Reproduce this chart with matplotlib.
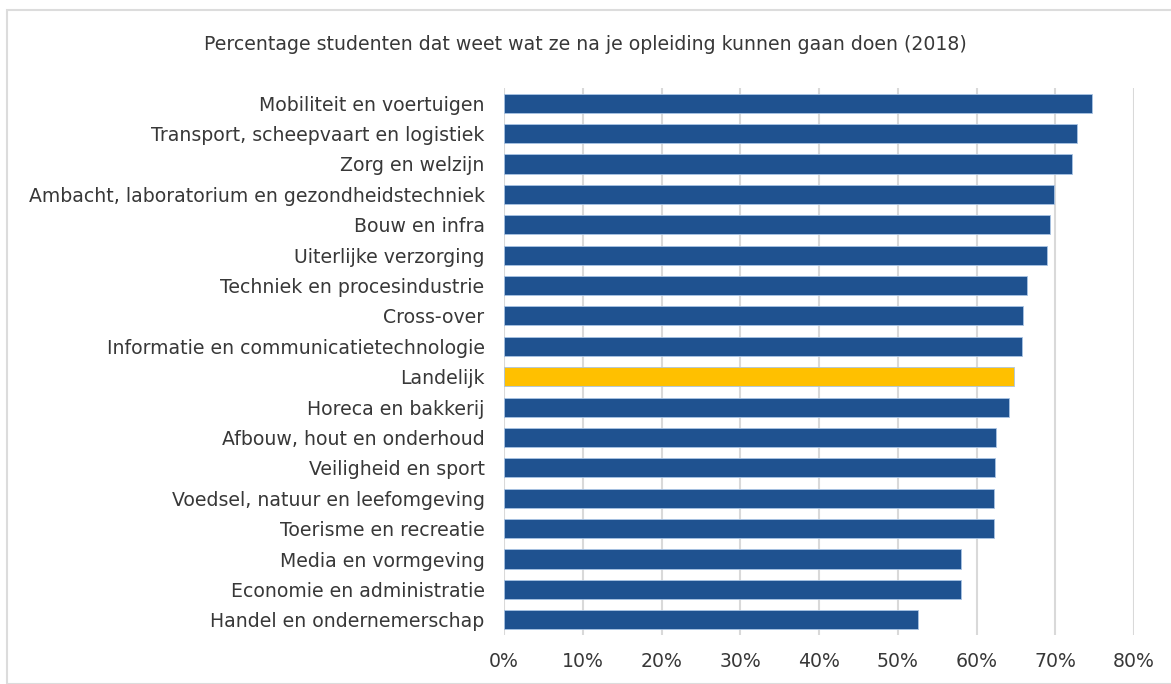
import matplotlib.pyplot as plt
from matplotlib.patches import Rectangle
from matplotlib.ticker import PercentFormatter

# categorieen van boven naar onder, zoals in de figuur
categorieen = [
    "Mobiliteit en voertuigen",
    "Transport, scheepvaart en logistiek",
    "Zorg en welzijn",
    "Ambacht, laboratorium en gezondheidstechniek",
    "Bouw en infra",
    "Uiterlijke verzorging",
    "Techniek en procesindustrie",
    "Cross-over",
    "Informatie en communicatietechnologie",
    "Landelijk",
    "Horeca en bakkerij",
    "Afbouw, hout en onderhoud",
    "Veiligheid en sport",
    "Voedsel, natuur en leefomgeving",
    "Toerisme en recreatie",
    "Media en vormgeving",
    "Economie en administratie",
    "Handel en ondernemerschap",
]
percentages = [74.7, 72.7, 72.1, 69.8, 69.3, 69.0, 66.4, 65.9, 65.8, 64.8,
               64.1, 62.5, 62.3, 62.2, 62.2, 58.0, 58.0, 52.6]
x_ticks = [0, 10, 20, 30, 40, 50, 60, 70, 80]

blauw = "#1f5290"
geel = "#ffc000"
tekst = "#383838"

fig = plt.figure(figsize=(11.71, 6.84), dpi=100)
ax = fig.add_axes([504 / 1171, 1 - 635 / 684, 630 / 1171, 547 / 684])

kleuren = [geel if c == "Landelijk" else blauw for c in categorieen]
posities = list(range(len(categorieen)))
ax.barh(posities, percentages, height=0.63, color=kleuren,
        edgecolor="#a9c4e4", linewidth=0.6, zorder=3)

ax.set_ylim(len(categorieen) - 0.5, -0.5)
ax.set_xlim(0, 80)
ax.set_xticks(x_ticks)
ax.xaxis.set_major_formatter(PercentFormatter(decimals=0))
ax.set_yticks(posities)
ax.set_yticklabels(categorieen)

ax.grid(axis="x", color="#d9d9d9", linewidth=1.5, zorder=0)
for s in ax.spines.values():
    s.set_visible(False)
ax.tick_params(axis="both", length=0, colors=tekst, labelsize=13.6)
ax.tick_params(axis="y", pad=14)
ax.tick_params(axis="x", pad=12)

fig.text(0.5, 1 - 45 / 684, "Percentage studenten dat weet wat ze na je opleiding kunnen gaan doen (2018)",
         ha="center", va="center", fontsize=13.6, color=tekst)

# rand om de grafiek
fig.patches.append(Rectangle((7 / 1171, 0), 1.0, 1 - 10 / 684, transform=fig.transFigure,
                             fill=False, edgecolor="#dcdcdc", linewidth=1.5))

fig.savefig("out.png", dpi=100)
